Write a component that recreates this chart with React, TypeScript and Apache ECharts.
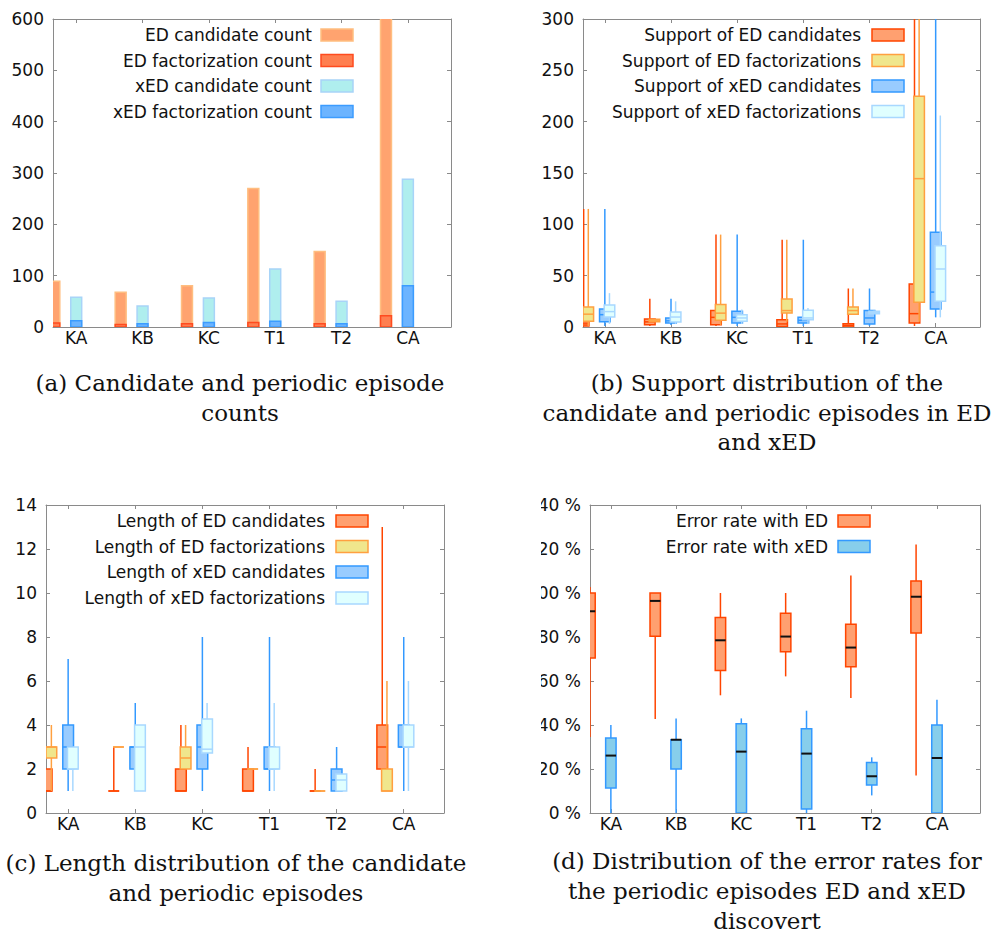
import React, { useEffect, useRef } from 'react';
import * as echarts from 'echarts';

// ---------- data ----------
const categories = ['KA', 'KB', 'KC', 'T1', 'T2', 'CA'];

// (a) counts
const edCandidateCount = [89, 67.5, 80.5, 270, 147, 620];
const edFactorizationCount = [8, 5, 6.5, 9, 6.5, 22];
const xedCandidateCount = [58, 41, 56.5, 113, 50, 288];
const xedFactorizationCount = [12, 6.5, 9, 11, 6.5, 80.5];

// (b) support distribution: [min, q1, median, q3, max]
const supportEdCand = [[1, 1, 3, 5, 115], [1, 2.3, 5, 7.8, 27.5], [1, 2.3, 9.4, 16, 90], [0, 0.6, 3, 7, 85], [0, 0, 1.5, 3.2, 37.5], [1, 3.9, 13, 42, 350]];
const supportEdFact = [[1, 5.5, 12.5, 19.5, 115], [5, 5.2, 6, 7.5, 7.8], [2, 6.5, 13.5, 21.8, 90], [5, 13.6, 16, 27.3, 85], [12, 12.3, 16, 19.5, 37.5], [5, 24, 144.5, 224.7, 350]];
const supportXedCand = [[1, 5, 12, 17.5, 115], [2, 3.9, 6, 8.8, 27.5], [1, 3.9, 9.4, 15.3, 90], [1, 3.9, 6.5, 9.4, 85], [1, 2.9, 8.8, 16, 37.5], [9.4, 17.5, 34, 92.2, 350]];
const supportXedFact = [[3, 9.7, 15, 21.5, 33], [3, 4.9, 9.7, 14.6, 25], [3, 5.5, 8.8, 12, 17], [3, 7, 8.8, 16.2, 18.5], [13, 13, 14.3, 15.3, 16], [9.4, 25, 56.5, 79.2, 206]];

// (c) length distribution
const lengthEdCand = [[1, 1, 1, 2, 2], [1, 1, 1, 1, 3], [1, 1, 1, 2, 4], [1, 1, 1, 2, 3], [1, 1, 1, 1, 2], [1, 2, 3, 4, 13]];
const lengthEdFact = [[1, 2.5, 3, 3, 4], [3, 3, 3, 3, 3], [2, 2, 2.5, 3, 4], [2, 2, 2, 2, 2], [1, 1, 1, 1, 1], [1, 1, 1, 2, 6]];
const lengthXedCand = [[1, 2, 3, 4, 7], [2, 2, 3, 3, 5], [1, 2, 3, 4, 8], [1, 2, 2, 3, 8], [1, 1, 1.5, 2, 3], [1, 3, 3, 4, 8]];
const lengthXedFact = [[1, 2, 2, 3, 3], [1, 1, 3, 4, 4], [2.73, 2.73, 2.9, 4.27, 5], [1, 2, 2, 3, 5], [1, 1, 1.5, 1.77, 1.77], [1, 3, 3, 4, 6]];

// (d) error rates (%)
const errorEd = [[34.5, 70.5, 91.7, 100, 102.7], [42.7, 80.3, 96.4, 100, 100], [53.5, 64.8, 78.5, 88.9, 100], [62.1, 73.3, 80.2, 90.8, 100], [52.3, 66.5, 75.2, 85.8, 107.9], [17, 81.8, 98.3, 105.5, 122]];
const errorXed = [[0, 11.4, 26.1, 34.1, 40], [0, 20, 33.3, 33.3, 43], [0, 0, 27.9, 40.6, 43], [0, 1.8, 27, 38.3, 46.5], [8, 12.7, 16.7, 23, 25.3], [0, 0, 25, 40, 51.5]];

// labels
const legendA = ['ED candidate count', 'ED factorization count', 'xED candidate count', 'xED factorization count'];
const legendB = ['Support of ED candidates', 'Support of ED factorizations', 'Support of xED candidates', 'Support of xED factorizations'];
const legendC = ['Length of ED candidates', 'Length of ED factorizations', 'Length of xED candidates', 'Length of xED factorizations'];
const legendD = ['Error rate with ED', 'Error rate with xED'];

const captionA = ['(a) Candidate and periodic episode', 'counts'];
const captionB = ['(b) Support distribution of the', 'candidate and periodic episodes in ED', 'and xED'];
const captionC = ['(c) Length distribution of the candidate', 'and periodic episodes'];
const captionD = ['(d) Distribution of the error rates for', 'the periodic episodes ED and xED', 'discovert'];

// ---------- styles ----------
const SANS = 'DejaVu Sans';
const SERIF = 'DejaVu Serif';
const AXIS_COLOR = '#8a8a8a';

const barStyles = [
  { fill: '#FFA36F', stroke: '#FFBE80' },
  { fill: '#FF7F50', stroke: '#FF4B1F' },
  { fill: '#AFEEEE', stroke: '#A8D4F8' },
  { fill: '#6CB4FF', stroke: '#3C9CFF' },
];
const boxStyles = [
  { fill: '#FFA070', stroke: '#FF4500' },
  { fill: '#F0E68C', stroke: '#FFA040' },
  { fill: '#99CCFF', stroke: '#3399FF' },
  { fill: '#E0FFFF', stroke: '#A8D8FF' },
];
const errStyles = [
  { fill: '#FFA070', stroke: '#FF4500' },
  { fill: '#87CEEB', stroke: '#3399FF' },
];

const grids = [
  { left: 53, top: 19, width: 398, height: 308, xmin: -0.35, xmax: 5.65, ymax: 600, interval: 100 },
  { left: 583, top: 19, width: 397, height: 308, xmin: -0.33, xmax: 5.67, ymax: 300, interval: 50 },
  { left: 46, top: 505, width: 398, height: 308, xmin: -0.33, xmax: 5.6, ymax: 14, interval: 2 },
  { left: 590, top: 505, width: 390, height: 308, xmin: -0.32, xmax: 5.66, ymax: 140, interval: 20 },
];

const catIdx = categories.map((_, i) => i);

function barSeries(values: number[], offset: number, g: number, st: { fill: string; stroke: string }, w: number) {
  return {
    type: 'custom',
    xAxisIndex: g * 2,
    yAxisIndex: g * 2,
    clip: true,
    data: values.map((v, i) => [i + offset, v]),
    renderItem: (_p: any, api: any) => {
      const x = api.value(0);
      const v = api.value(1);
      const p0 = api.coord([x - w / 2, 0]);
      const p1 = api.coord([x + w / 2, v]);
      return {
        type: 'rect',
        shape: { x: p0[0], y: p1[1], width: p1[0] - p0[0], height: p0[1] - p1[1] },
        style: { fill: st.fill, stroke: st.stroke, lineWidth: 1.5 },
      };
    },
  };
}

function boxSeries(rows: number[][], offset: number, g: number, st: { fill: string; stroke: string }, w: number, medColor?: string, medW = 1.5) {
  return {
    type: 'custom',
    xAxisIndex: g * 2,
    yAxisIndex: g * 2,
    clip: true,
    data: rows.map((r, i) => [i + offset, ...r]),
    renderItem: (_p: any, api: any) => {
      const x = api.value(0);
      const mn = api.value(1), q1 = api.value(2), md = api.value(3), q3 = api.value(4), mx = api.value(5);
      const cx = api.coord([x, 0])[0];
      const l = api.coord([x - w / 2, 0])[0];
      const r = api.coord([x + w / 2, 0])[0];
      const y = (v: number) => api.coord([x, v])[1];
      return {
        type: 'group',
        children: [
          { type: 'line', shape: { x1: cx, y1: y(mn), x2: cx, y2: y(q1) }, style: { stroke: st.stroke, lineWidth: 1.5 } },
          { type: 'line', shape: { x1: cx, y1: y(q3), x2: cx, y2: y(mx) }, style: { stroke: st.stroke, lineWidth: 1.5 } },
          { type: 'rect', shape: { x: l, y: y(q3), width: r - l, height: Math.max(y(q1) - y(q3), 0) }, style: { fill: st.fill, stroke: st.stroke, lineWidth: 1.5 } },
          { type: 'line', shape: { x1: l, y1: y(md), x2: r, y2: y(md) }, style: { stroke: medColor || st.stroke, lineWidth: medW } },
        ],
      };
    },
  };
}

function legendGraphics(labels: string[], styles: { fill: string; stroke: string }[], textRight: number, keyLeft: number, rowY: number[]) {
  const out: any[] = [];
  labels.forEach((t, i) => {
    out.push({
      type: 'text',
      z: 50,
      style: { text: t, x: textRight, y: rowY[i], textAlign: 'right', textVerticalAlign: 'middle', fontFamily: SANS, fontSize: 17, fill: '#111' },
    });
    out.push({
      type: 'rect',
      z: 50,
      shape: { x: keyLeft, y: rowY[i] - 6, width: 32, height: 12 },
      style: { fill: styles[i].fill, stroke: styles[i].stroke, lineWidth: 1.5 },
    });
  });
  return out;
}

function captionGraphics(lines: string[], cx: number, y0: number, dy: number) {
  return lines.map((t, i) => ({
    type: 'text',
    z: 50,
    style: { text: t, x: cx, y: y0 + i * dy, textAlign: 'center', textVerticalAlign: 'middle', fontFamily: SERIF, fontSize: 23, fill: '#111' },
  }));
}

export default function App() {
  const ref = useRef<HTMLDivElement>(null);
  useEffect(() => {
    document.body.style.margin = '0';
    const chart = echarts.init(ref.current!, null, { renderer: 'svg' });

    const xAxis: any[] = [];
    const yAxis: any[] = [];
    grids.forEach((g, gi) => {
      const line = { show: true, onZero: false, lineStyle: { color: AXIS_COLOR, width: 1 } };
      xAxis.push({
        type: 'value', gridIndex: gi, min: g.xmin, max: g.xmax, position: 'bottom',
        axisLine: line,
        axisTick: { show: true, inside: true, length: 4, customValues: catIdx, lineStyle: { color: AXIS_COLOR } },
        axisLabel: { show: true, customValues: catIdx, margin: 2, formatter: (v: number) => categories[Math.round(v)] ?? '', fontFamily: SANS, fontSize: 17, color: '#111' },
        splitLine: { show: false },
      });
      xAxis.push({
        type: 'value', gridIndex: gi, min: g.xmin, max: g.xmax, position: 'top',
        axisLine: line,
        axisTick: { show: true, inside: true, length: 4, customValues: catIdx, lineStyle: { color: AXIS_COLOR } },
        axisLabel: { show: false },
        splitLine: { show: false },
      });
      yAxis.push({
        type: 'value', gridIndex: gi, min: 0, max: g.ymax, interval: g.interval, position: 'left',
        axisLine: line,
        axisTick: { show: true, inside: true, length: 4, lineStyle: { color: AXIS_COLOR } },
        axisLabel: { show: true, margin: 9, fontFamily: SANS, fontSize: 17, color: '#111', formatter: gi === 3 ? (v: number) => v + ' %' : undefined },
        splitLine: { show: false },
      });
      yAxis.push({
        type: 'value', gridIndex: gi, min: 0, max: g.ymax, interval: g.interval, position: 'right',
        axisLine: line,
        axisTick: { show: true, inside: true, length: 4, lineStyle: { color: AXIS_COLOR } },
        axisLabel: { show: false },
        splitLine: { show: false },
      });
    });

    const off4 = [-0.32, -0.25, 0, 0.07];
    const bw = 0.165;
    const boxW = 0.16;

    const series: any[] = [
      barSeries(edCandidateCount, -0.33, 0, barStyles[0], bw),
      barSeries(edFactorizationCount, -0.33, 0, barStyles[1], bw),
      barSeries(xedCandidateCount, 0, 0, barStyles[2], bw),
      barSeries(xedFactorizationCount, 0, 0, barStyles[3], bw),

      boxSeries(supportEdCand, off4[0], 1, boxStyles[0], boxW),
      boxSeries(supportEdFact, off4[1], 1, boxStyles[1], boxW),
      boxSeries(supportXedCand, off4[2], 1, boxStyles[2], boxW),
      boxSeries(supportXedFact, off4[3], 1, boxStyles[3], boxW),

      boxSeries(lengthEdCand, off4[0], 2, boxStyles[0], boxW),
      boxSeries(lengthEdFact, off4[1], 2, boxStyles[1], boxW),
      boxSeries(lengthXedCand, off4[2], 2, boxStyles[2], boxW),
      boxSeries(lengthXedFact, off4[3], 2, boxStyles[3], boxW),

      boxSeries(errorEd, -0.32, 3, errStyles[0], boxW, '#111', 2),
      boxSeries(errorXed, 0, 3, errStyles[1], boxW, '#111', 2),
    ];

    const graphic: any[] = [
      ...legendGraphics(legendA, barStyles, 312, 321, [35, 60.5, 86, 111.5]),
      ...legendGraphics(legendB, boxStyles, 861, 872, [35, 60.5, 86, 111.5]),
      ...legendGraphics(legendC, boxStyles, 325, 336, [521, 546.5, 572, 598]),
      ...legendGraphics(legendD, errStyles, 828, 838, [521, 546.5]),
      // sub-figure (d) is cropped on its left side in the original
      { type: 'rect', z: 100, shape: { x: 490, y: 490, width: 51, height: 340 }, style: { fill: '#fff' } },
      ...captionGraphics(captionA, 240, 383, 29.5),
      ...captionGraphics(captionB, 767, 383, 29.5),
      ...captionGraphics(captionC, 236, 863, 30),
      ...captionGraphics(captionD, 767, 861, 30),
    ];

    chart.setOption({
      animation: false,
      backgroundColor: '#fff',
      textStyle: { fontFamily: SANS },
      grid: grids.map((g) => ({ left: g.left, top: g.top, width: g.width, height: g.height, containLabel: false, outerBoundsMode: 'none' })),
      xAxis,
      yAxis,
      series,
      graphic,
    });
    return () => chart.dispose();
  }, []);
  return <div ref={ref} style={{ position: 'absolute', left: 0, top: 0, width: 995, height: 943 }} />;
}
